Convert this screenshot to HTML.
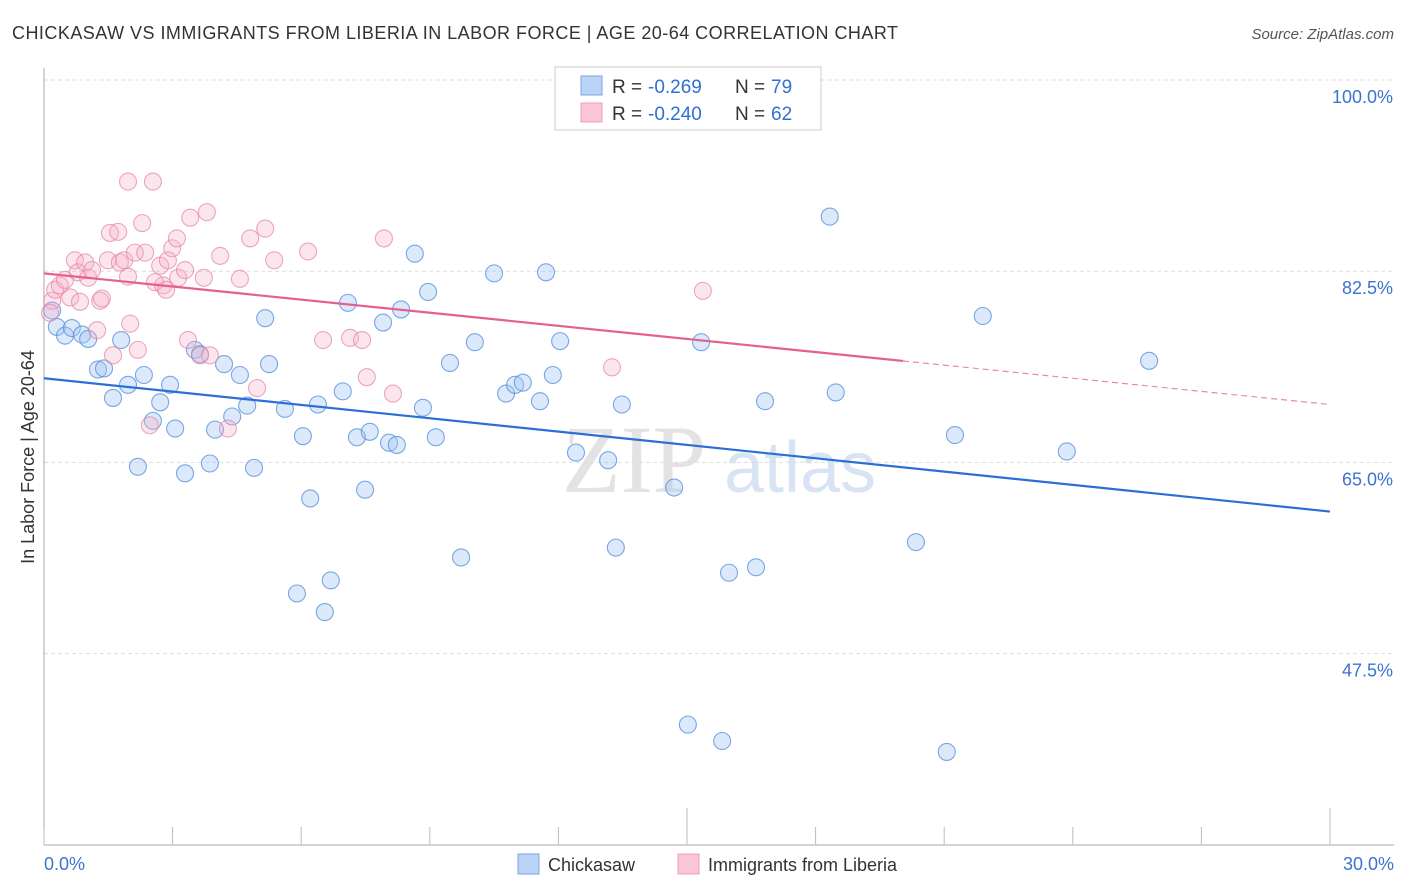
<!DOCTYPE html>
<html><head><meta charset="utf-8"><style>
body{margin:0;background:#fff;font-family:"Liberation Sans",sans-serif;}
svg{display:block}
</style></head><body>
<svg width="1406" height="892" viewBox="0 0 1406 892">
<text x="12" y="39" font-size="18" fill="#333" textLength="886" lengthAdjust="spacing">CHICKASAW VS IMMIGRANTS FROM LIBERIA IN LABOR FORCE | AGE 20-64 CORRELATION CHART</text>
<text x="1394" y="39" font-size="15" fill="#555" font-style="italic" text-anchor="end">Source: ZipAtlas.com</text>
<g>
<text x="634" y="492" font-size="96" font-family="Liberation Serif" fill="#ddd" text-anchor="middle" opacity="0.8">ZIP</text>
<text x="800" y="492" font-size="72" fill="#c8d8f0" text-anchor="middle" opacity="0.7">atlas</text>
</g>
<g id="grid"></g>
<g id="axes"></g>
<g id="marks"></g>
<text transform="translate(34,457) rotate(-90)" font-size="18" fill="#333" text-anchor="middle">In Labor Force | Age 20-64</text>
<g>
<rect x="555" y="67" width="266" height="63" fill="#fff" stroke="#ccc"/>
<rect x="581" y="76" width="21" height="19" fill="#b9d4f7" stroke="#7aa6e0"/>
<rect x="581" y="103" width="21" height="19" fill="#fbc7d6" stroke="#eba0b8"/>
<text x="612" y="93" font-size="19" fill="#333">R =</text>
<text x="648" y="93" font-size="19" fill="#2f6fd6">-0.269</text>
<text x="735" y="93" font-size="19" fill="#333">N =</text>
<text x="771" y="93" font-size="19" fill="#2f6fd6">79</text>
<text x="612" y="120" font-size="19" fill="#333">R =</text>
<text x="648" y="120" font-size="19" fill="#2f6fd6">-0.240</text>
<text x="735" y="120" font-size="19" fill="#333">N =</text>
<text x="771" y="120" font-size="19" fill="#2f6fd6">62</text>
</g>
<g>
<rect x="518" y="854" width="21" height="20" fill="#b9d4f7" stroke="#7aa6e0"/>
<text x="548" y="871" font-size="18" fill="#333">Chickasaw</text>
<rect x="678" y="854" width="21" height="20" fill="#fbc7d6" stroke="#eba0b8"/>
<text x="708" y="871" font-size="18" fill="#333">Immigrants from Liberia</text>
</g>
</svg>
<script>
const blueX=[0.30,0.49,0.65,0.89,1.03,1.26,1.40,1.61,1.80,1.96,2.19,2.33,2.54,2.71,2.94,3.06,3.29,3.52,3.64,3.87,3.99,4.20,4.39,4.57,4.74,4.90,5.16,5.25,5.62,5.90,6.04,6.21,6.39,6.55,6.69,6.97,7.09,7.30,7.49,7.60,7.91,8.05,8.23,8.33,8.65,8.84,8.96,9.14,9.47,9.73,10.05,10.50,10.78,10.99,11.17,11.57,11.71,11.87,12.04,12.41,13.16,13.34,13.48,14.70,15.02,15.33,15.82,15.98,16.61,16.82,18.33,18.47,20.34,21.06,21.25,21.90,23.86,25.78,0.19];
const blueY=[77.4,76.6,77.3,76.7,76.3,73.5,73.6,70.9,76.2,72.1,64.6,73.0,68.8,70.5,72.1,68.1,64.0,75.3,74.9,64.9,68.0,74.0,69.2,73.0,70.2,64.5,78.2,74.0,69.9,53.0,67.4,61.7,70.3,51.3,54.2,71.5,79.6,67.3,62.5,67.8,77.8,66.8,66.6,79.0,84.1,70.0,80.6,67.3,74.1,56.3,76.0,82.3,71.3,72.1,72.3,70.6,82.4,73.0,76.1,65.9,65.2,57.2,70.3,62.7,41.0,76.0,39.5,54.9,55.4,70.6,87.5,71.4,57.7,38.5,67.5,78.4,66.0,74.3,78.9];
const pinkX=[0.19,0.26,0.37,0.49,0.61,0.72,0.79,0.84,0.96,1.03,1.12,1.24,1.31,1.35,1.49,1.54,1.61,1.73,1.77,1.87,1.96,2.01,2.12,2.19,2.29,2.36,2.47,2.54,2.59,2.71,2.78,2.85,2.89,2.99,3.10,3.13,3.29,3.36,3.41,3.64,3.73,3.80,3.87,4.11,4.29,4.57,4.81,4.97,5.16,5.37,6.16,6.51,7.14,7.42,7.53,7.93,8.14,13.25,15.37,1.96,0.14];
const pinkY=[79.8,80.8,81.2,81.7,80.1,83.5,82.4,79.7,83.3,81.9,82.6,77.1,79.8,80.0,83.5,86.0,74.8,86.1,83.3,83.5,82.0,77.7,84.2,75.3,86.9,84.2,68.4,90.7,81.5,83.0,81.2,80.8,83.5,84.6,85.5,81.9,82.6,76.2,87.4,74.8,81.9,87.9,74.8,83.9,68.1,81.8,85.5,71.8,86.4,83.5,84.3,76.2,76.4,76.2,72.8,85.5,71.3,73.7,80.7,90.7,78.7];
const blueTrend=[72.7,60.5];
const pinkTrend=[82.3,70.3];
const pinkSolidEnd=20.04;
const yTicks=[100,82.5,65,47.5];
const yTickLabels=["100.0%","82.5%","65.0%","47.5%"];
const xTickVals=[0,3,6,9,12,15,18,21,24,27,30];

const NS="http://www.w3.org/2000/svg";
const X0=44,X1=1330,YT=80,YB=653.6;
const xs=v=>X0+(v/30)*(X1-X0);
const ys=v=>YT+(100-v)/(100-47.5)*(YB-YT);
function mk(tag,attrs,parent){const e=document.createElementNS(NS,tag);for(const k in attrs)e.setAttribute(k,attrs[k]);parent.appendChild(e);return e;}
const grid=document.getElementById('grid'),axes=document.getElementById('axes'),marks=document.getElementById('marks');
yTicks.forEach((t,i)=>{
 const l=mk('line',{x1:X0,x2:1394,y1:ys(t),y2:ys(t),stroke:'#ddd','stroke-dasharray':'4,3'},grid);
 
 
 const tx=mk('text',{x:1393,y:ys(t)+23,'font-size':18,fill:'#3b73d1','text-anchor':'end'},axes);
 tx.textContent=yTickLabels[i];
 
 
});
const ax=mk('line',{x1:X0,x2:X0,y1:68,y2:845,stroke:'#aaa'},axes);


const bx=mk('line',{x1:X0,x2:1394,y1:845,y2:845,stroke:'#aaa'},axes);


xTickVals.forEach(v=>{
 const tall=(v===15||v===30);
 const t=mk('line',{x1:xs(v),x2:xs(v),y1:tall?808:827,y2:845,stroke:'#bbb'},axes);
 
 
});
const xl0=mk('text',{x:44,y:870,'font-size':18,fill:'#3b73d1'},axes);xl0.textContent="0.0%";


const xl1=mk('text',{x:1394,y:870,'font-size':18,fill:'#3b73d1','text-anchor':'end'},axes);xl1.textContent="30.0%";



blueX.forEach((v,i)=>{
 const c=mk('circle',{cx:xs(v),cy:ys(blueY[i]),r:8.5,fill:'rgba(160,198,242,0.38)',stroke:'rgba(80,140,220,0.75)','stroke-width':1.1},marks);
 
 
});
pinkX.forEach((v,i)=>{
 const c=mk('circle',{cx:xs(v),cy:ys(pinkY[i]),r:8.5,fill:'rgba(246,178,200,0.32)',stroke:'rgba(230,130,165,0.7)','stroke-width':1.1},marks);
 
 
});
const bt=mk('line',{x1:xs(0),y1:ys(blueTrend[0]),x2:xs(30),y2:ys(blueTrend[1]),stroke:'#2a6fd6','stroke-width':2.2},marks);


const pAt=v=>pinkTrend[0]+(pinkTrend[1]-pinkTrend[0])*v/30;
const pt=mk('line',{x1:xs(0),y1:ys(pinkTrend[0]),x2:xs(pinkSolidEnd),y2:ys(pAt(pinkSolidEnd)),stroke:'#e4618d','stroke-width':2.2},marks);


const pd=mk('line',{x1:xs(pinkSolidEnd),y1:ys(pAt(pinkSolidEnd)),x2:xs(30),y2:ys(pinkTrend[1]),stroke:'#e98aa8','stroke-width':1.2,'stroke-dasharray':'6,4'},marks);


</script>
</body></html>
